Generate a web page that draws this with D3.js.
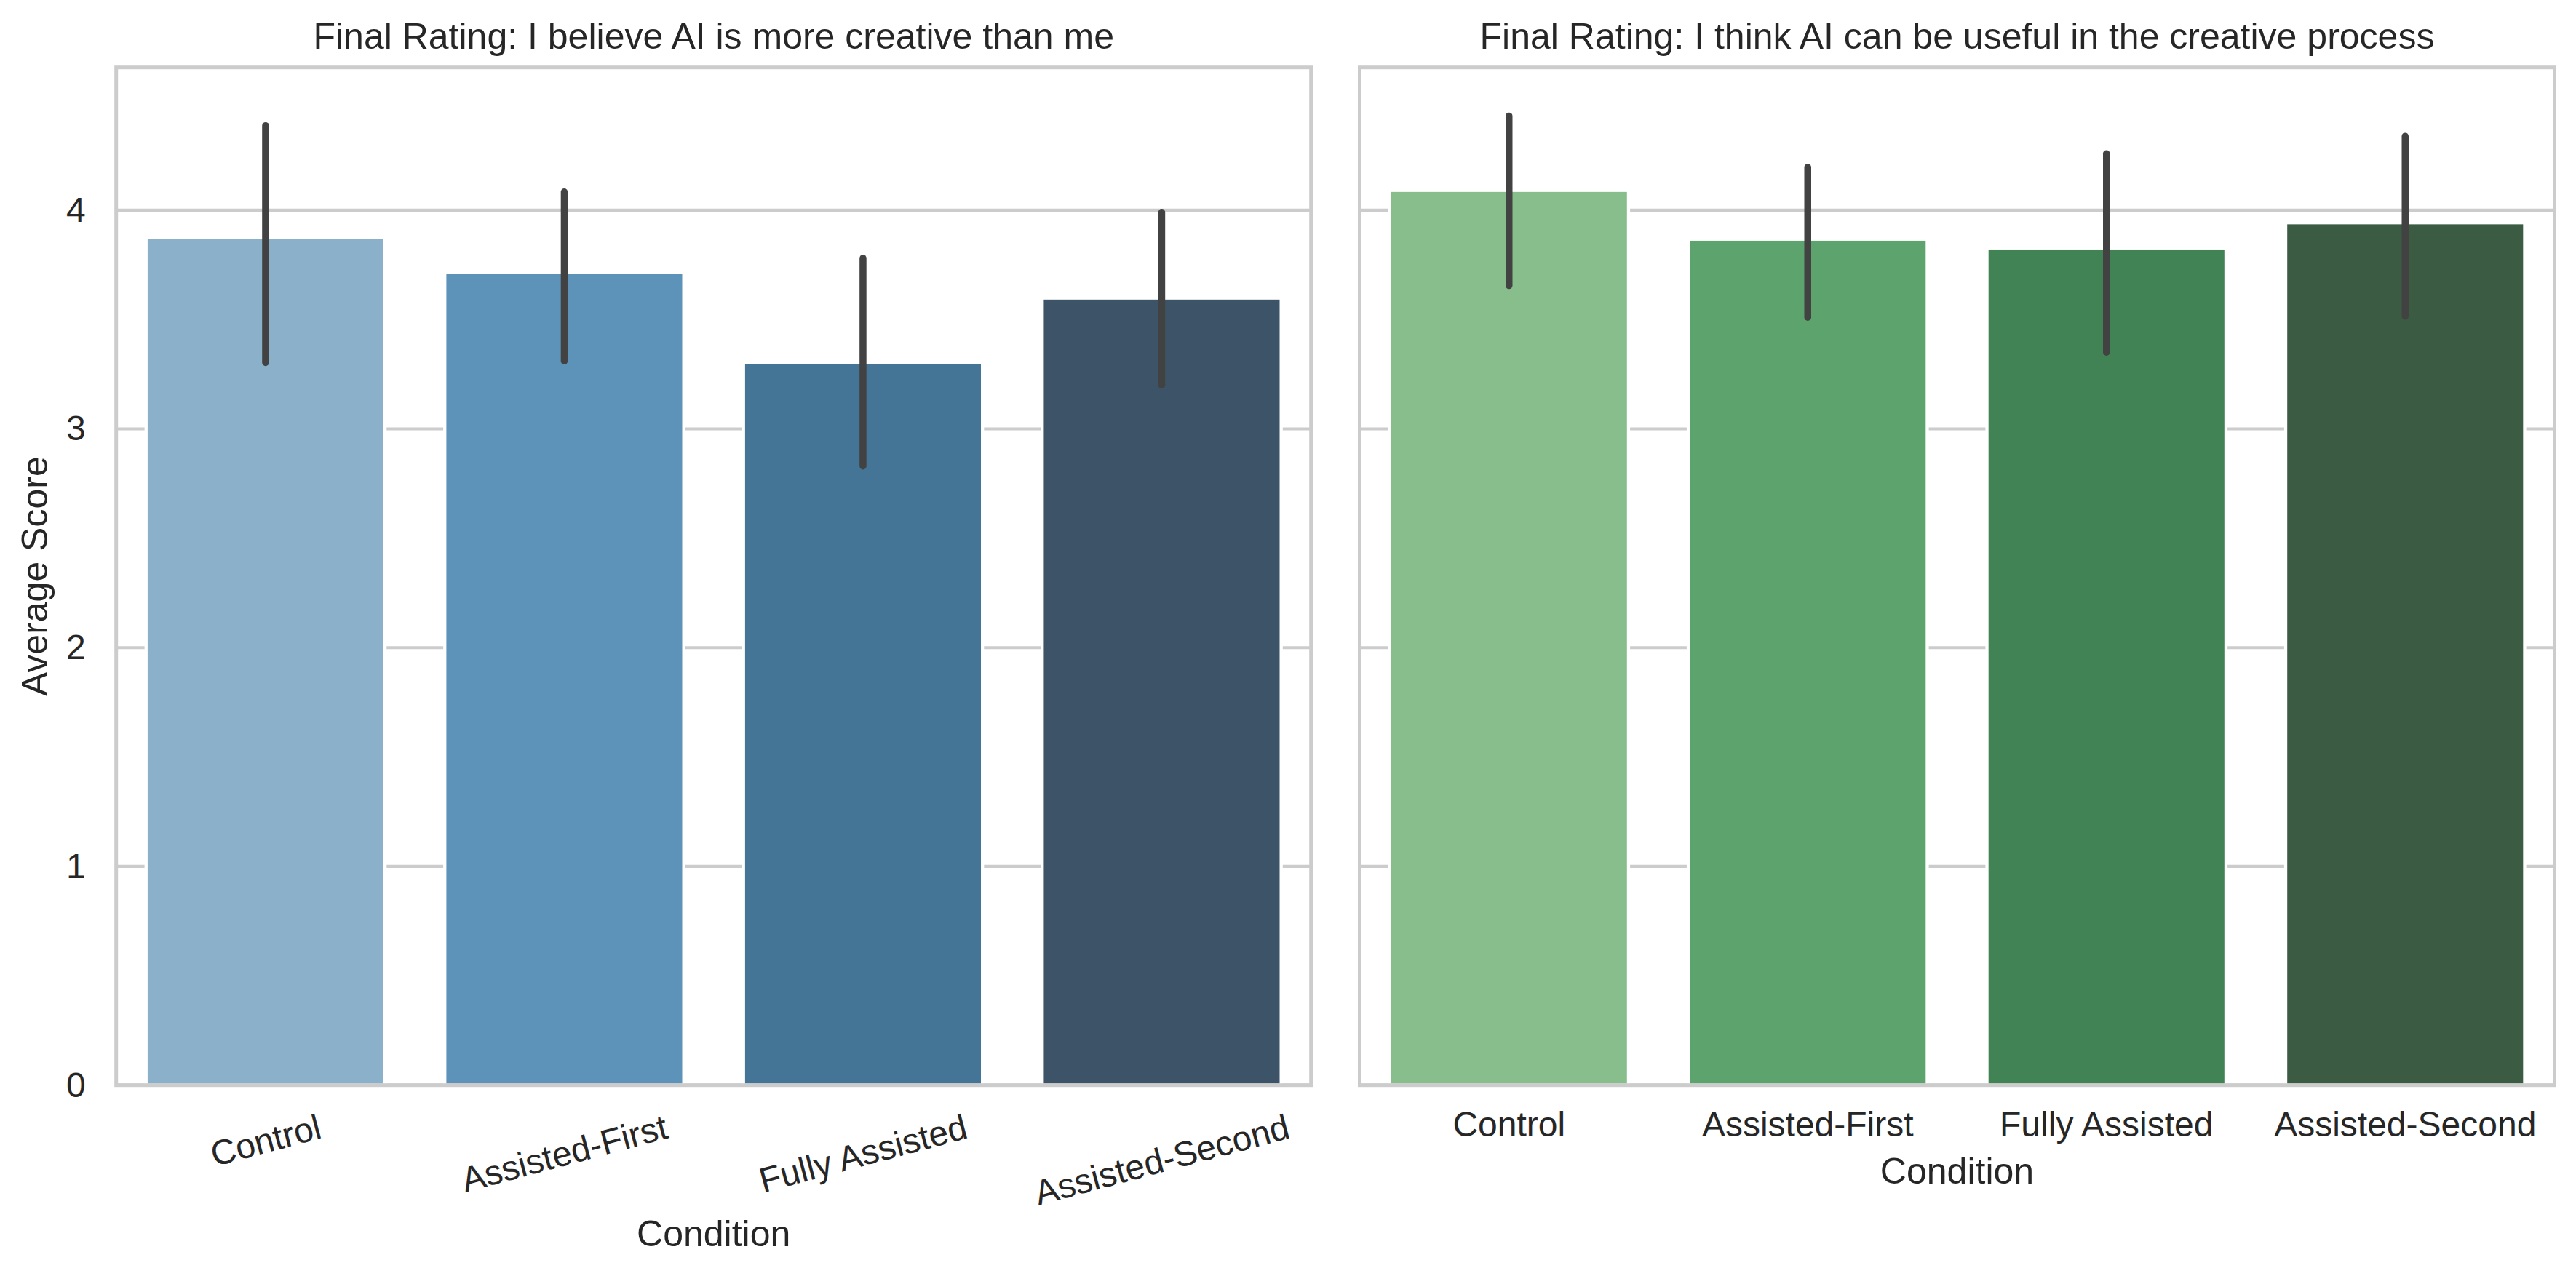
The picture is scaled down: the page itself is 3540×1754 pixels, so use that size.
<!DOCTYPE html>
<html>
<head>
<meta charset="utf-8">
<script src="https://cdn.jsdelivr.net/npm/d3@7"></script>
<style>
  body { margin: 0; background: #fff; }
  text { font-family: "Liberation Sans", Arial, sans-serif; fill: #262626; }
</style>
</head>
<body>
<script>
// Data
const conditions = ["Control", "Assisted-First", "Fully Assisted", "Assisted-Second"];

const creativeMeans = [3.874, 3.717, 3.304, 3.598];
const creativeLow   = [3.303, 3.31, 2.83, 3.20];
const creativeHigh  = [4.386, 4.083, 3.78, 3.99];

const usefulMeans = [4.09, 3.867, 3.827, 3.942];
const usefulLow   = [3.655, 3.51, 3.35, 3.515];
const usefulHigh  = [4.43, 4.196, 4.258, 4.338];

const yTicks = [0, 1, 2, 3, 4];
const blues  = ["#8ab0ca", "#5e93b9", "#447596", "#3d5468"];
const greens = ["#88bd8c", "#5ca36d", "#428355", "#3b5b43"];

const width = 3540, height = 1754;
const fontSize = 50;      // titles and axis labels
const tickFontSize = 48;  // tick labels

const svg = d3.select("body")
    .append("svg")
    .attr("width", width)
    .attr("height", height);

// shared y scale (sharey)
const yTop = 92.7, yBottom = 1491.7;
const y = d3.scaleLinear().domain([0, 4.652]).range([yBottom, yTop]);

function drawPanel(opts) {
    const x = d3.scaleBand()
        .domain(conditions)
        .range([opts.x0, opts.x1])
        .paddingInner(0.2)
        .paddingOuter(0.1);

    const g = svg.append("g");

    // horizontal grid lines
    g.selectAll(".grid")
        .data(yTicks)
        .enter()
        .append("line")
        .attr("x1", opts.x0)
        .attr("x2", opts.x1)
        .attr("y1", d => y(d))
        .attr("y2", d => y(d))
        .attr("stroke", "#cccccc")
        .attr("stroke-width", 4.2);

    const rows = conditions.map((c, i) => ({
        cond: c, mean: opts.means[i], lo: opts.low[i], hi: opts.high[i], color: opts.colors[i]
    }));

    // bars
    g.selectAll(".bar")
        .data(rows)
        .enter()
        .append("rect")
        .attr("x", d => x(d.cond))
        .attr("width", x.bandwidth())
        .attr("y", d => y(d.mean))
        .attr("height", d => y(0) - y(d.mean))
        .attr("fill", d => d.color)
        .attr("stroke", "#ffffff")
        .attr("stroke-width", 4.3);

    // error bars
    g.selectAll(".err")
        .data(rows)
        .enter()
        .append("line")
        .attr("x1", d => x(d.cond) + x.bandwidth() / 2)
        .attr("x2", d => x(d.cond) + x.bandwidth() / 2)
        .attr("y1", d => y(d.lo))
        .attr("y2", d => y(d.hi))
        .attr("stroke", "#424242")
        .attr("stroke-width", 9.5)
        .attr("stroke-linecap", "round");

    // spines
    g.append("rect")
        .attr("x", opts.x0)
        .attr("y", yTop)
        .attr("width", opts.x1 - opts.x0)
        .attr("height", yBottom - yTop)
        .attr("fill", "none")
        .attr("stroke", "#cccccc")
        .attr("stroke-width", 5);

    // x axis tick labels
    const xAxis = g.append("g")
        .attr("transform", `translate(0,${yBottom})`)
        .call(d3.axisBottom(x).tickSize(0).tickPadding(36));
    xAxis.select(".domain").remove();
    xAxis.selectAll("text")
        .attr("font-size", tickFontSize)
        .attr("font-family", null)
        .attr("fill", "#262626");

    if (opts.rotate) {
        xAxis.selectAll("text").each(function() {
            const t = d3.select(this);
            const w = this.getComputedTextLength();
            const cy = 55.3 + w * Math.sin(15 * Math.PI / 180) / 2;
            t.attr("y", 0)
                .attr("dy", "0.36em")
                .attr("text-anchor", "middle")
                .attr("transform", `translate(0,${cy}) rotate(-15)`);
        });
    }

    // y axis tick labels (left panel only)
    if (opts.yLabels) {
        const yAxis = g.append("g")
            .attr("transform", `translate(${opts.x0},0)`)
            .call(d3.axisLeft(y).tickValues(yTicks).tickSize(0).tickPadding(42).tickFormat(d3.format("d")));
        yAxis.select(".domain").remove();
        yAxis.selectAll("text")
            .attr("font-size", tickFontSize)
            .attr("font-family", null)
            .attr("fill", "#262626");

        svg.append("text")
            .attr("transform", `translate(65,${(yTop + yBottom) / 2}) rotate(-90)`)
            .attr("text-anchor", "middle")
            .attr("font-size", fontSize)
            .text("Average Score");
    }

    // title
    svg.append("text")
        .attr("x", (opts.x0 + opts.x1) / 2)
        .attr("y", 67)
        .attr("text-anchor", "middle")
        .attr("font-size", fontSize)
        .text(opts.title);

    // x axis label
    svg.append("text")
        .attr("x", (opts.x0 + opts.x1) / 2)
        .attr("y", opts.xLabelY)
        .attr("text-anchor", "middle")
        .attr("font-size", fontSize)
        .text("Condition");
}

drawPanel({
    x0: 159.7, x1: 1801.7,
    means: creativeMeans, low: creativeLow, high: creativeHigh,
    colors: blues,
    title: "Final Rating: I believe AI is more creative than me",
    rotate: true, yLabels: true, xLabelY: 1713
});

drawPanel({
    x0: 1868.5, x1: 3510.5,
    means: usefulMeans, low: usefulLow, high: usefulHigh,
    colors: greens,
    title: "Final Rating: I think AI can be useful in the creative process",
    rotate: false, yLabels: false, xLabelY: 1627
});
</script>
</body>
</html>
